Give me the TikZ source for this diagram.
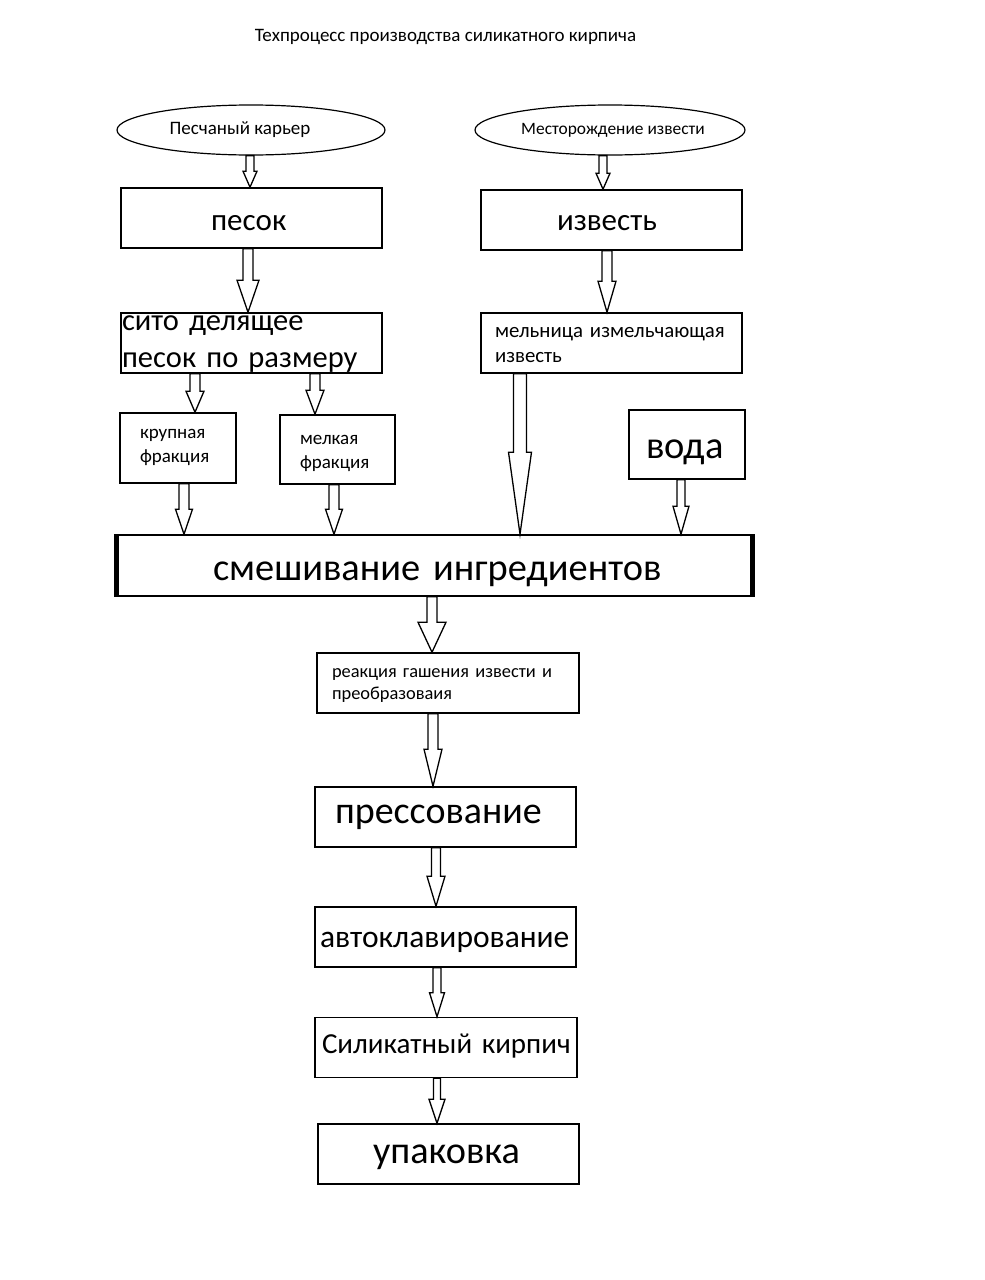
\documentclass[tikz,border=0pt]{standalone}
\usepackage{fontspec}
\setmainfont{Carlito}
\usetikzlibrary{shapes.geometric,calc}
\newcommand\fsz[2]{\fontsize{#1pt}{#2pt}\selectfont}
\newcommand\barrow[6]{% x, from, to, shaft half, head half, head length
  \draw[barr] let \p1=(#2), \p2=(#3) in
    ({#1pt-#4pt},\y1) -- ({#1pt-#4pt},{\y2+#6pt}) -- ({#1pt-#5pt},{\y2+#6pt}) --
    ({#1pt},\y2) -- ({#1pt+#5pt},{\y2+#6pt}) -- ({#1pt+#4pt},{\y2+#6pt}) --
    ({#1pt+#4pt},\y1) -- cycle;}
\tikzset{
  box/.style={draw, line width=1.6pt, inner ysep=0pt, minimum height=60pt, align=left},
  oval/.style={ellipse, draw, line width=1.2pt, inner sep=0pt},
  barr/.style={draw, line width=1.3pt, fill=white, line join=miter},
}
\begin{document}
\begin{tikzpicture}[x=1pt,y=-1pt]
\useasboundingbox[fill=white] (0,0) rectangle (985,1280);

\node[font=\fsz{19}{22}] (title) at (445.5,37) {Техпроцесс производства силикатного кирпича};

\node[oval, minimum width=268pt, minimum height=50pt, font=\fsz{19}{22}] (quarry) at (251,130) {\hspace*{-22pt}Песчаный карьер};
\node[oval, minimum width=270pt, minimum height=50pt, font=\fsz{17.4}{20}] (deposit) at (610,130) {\hspace*{6pt}Месторождение извести};

\node[box, text width=81pt, inner xsep=90pt, text height=42pt, text depth=18pt, font=\fsz{31}{36}] (sand) at (251.5,218) {\mbox{песок}};
\node[box, text width=109pt, inner xsep=76pt, text height=40pt, text depth=20pt, font=\fsz{31}{36}] (lime) at (611.5,220) {\mbox{известь}};

\node[box, text width=259pt, inner xsep=1pt, text height=17pt, text depth=43pt, font=\fsz{30.5}{37}] (sieve) at (251.5,343) {сито делящее\\песок по размеру};
\node[box, text width=233pt, inner xsep=14pt, text height=24pt, text depth=36pt, font=\fsz{20.8}{25}] (mill) at (611.5,343) {мельница измельчающая\\известь};

\node[box, text width=76pt, inner xsep=20pt, text height=25pt, text depth=45pt, font=\fsz{19}{24}] (coarse) at (178,448) {крупная\\фракция};
\node[box, text width=75pt, inner xsep=20pt, text height=29pt, text depth=40pt, font=\fsz{19}{24}] (fine) at (337.5,449.5) {мелкая\\фракция};
\node[box, text width=82pt, inner xsep=17pt, text height=48pt, text depth=21pt, font=\fsz{38.5}{44}] (water) at (687,444.5) {\mbox{вода}};

\node[box, text width=443pt, inner xsep=96pt, text height=45pt, text depth=16pt, font=\fsz{38.4}{44}] (mix) at (434.5,565.5) {\mbox{смешивание ингредиентов}};
\draw[line width=5pt] (mix.north west) -- (mix.south west);
\draw[line width=5pt] (mix.north east) -- (mix.south east);

\node[box, text width=232pt, inner xsep=15pt, text height=24pt, text depth=36pt, font=\fsz{18.4}{22}] (react) at (448,683) {реакция гашения извести и\\преобразоваия};

\node[box, text width=221pt, inner xsep=20pt, text height=36pt, text depth=24pt, font=\fsz{38}{44}] (press) at (445.5,817) {\mbox{прессование}};
\node[box, text width=251pt, inner xsep=5pt, text height=40pt, text depth=20pt, font=\fsz{31.5}{38}] (autoc) at (445.5,937) {\mbox{автоклавирование}};
\node[box, text width=248pt, inner xsep=7pt, text height=35pt, text depth=24pt, font=\fsz{29}{35}] (brick) at (446,1047.5) {\mbox{Силикатный кирпич}};
\node[box, text width=151pt, inner xsep=55pt, text height=39pt, text depth=21pt, font=\fsz{38.3}{44}] (pack) at (448.5,1154) {\mbox{упаковка}};

\barrow{250}{quarry.south}{sand.north}{4}{7}{16}
\barrow{603}{deposit.south}{lime.north}{4}{7}{16}
\barrow{248}{sand.south}{sieve.north}{5}{11}{32}
\barrow{607}{lime.south}{mill.north}{5}{9}{31}
\barrow{195}{sieve.south}{coarse.north}{5}{9}{21}
\barrow{315}{sieve.south}{fine.north}{5}{9}{24}
\barrow{184}{coarse.south}{mix.north}{5}{8.5}{25}
\barrow{334}{fine.south}{mix.north}{5}{8.5}{25}
\barrow{520}{mill.south}{mix.north}{6.5}{11.5}{82}
\barrow{681}{water.south}{mix.north}{4}{8}{28}
\barrow{432}{mix.south}{react.north}{5}{14}{30}
\barrow{433}{react.south}{press.north}{5}{9}{37}
\barrow{436}{press.south}{autoc.north}{4.5}{9}{30}
\barrow{437}{autoc.south}{brick.north}{4}{7.5}{24}
\barrow{437}{brick.south}{pack.north}{3.5}{8}{24}
\end{tikzpicture}
\end{document}
